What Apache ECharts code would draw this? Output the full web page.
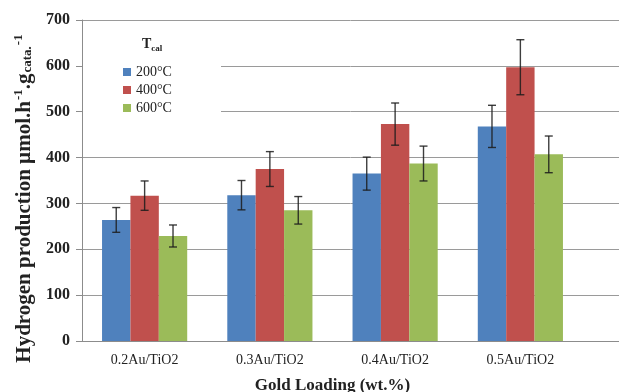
<!DOCTYPE html>
<html><head><meta charset="utf-8">
<script src="https://cdn.jsdelivr.net/npm/echarts@6/dist/echarts.min.js"></script>
<style>html,body{margin:0;padding:0;background:#fff}#c{width:619px;height:392px}</style>
</head><body><div id="c"></div>
<script>
const categories = ['0.2Au/TiO2', '0.3Au/TiO2', '0.4Au/TiO2', '0.5Au/TiO2'];
const seriesNames = ['200°C', '400°C', '600°C'];
const values200 = [264, 318, 365, 468];
const values400 = [317, 375, 473, 597];
const values600 = [229, 285, 387, 407];
const err200 = [27, 32, 36, 46];
const err400 = [32, 38, 46, 60];
const err600 = [24, 30, 38, 40];
const yTicks = [0, 100, 200, 300, 400, 500, 600, 700];

const colors = ['#4F81BD', '#C0504D', '#9BBB59'];
const valuesAll = [values200, values400, values600];
const errAll = [err200, err400, err600];
const catGap = 0.32;
const FONT = '"Liberation Serif", "Times New Roman", serif';

const chart = echarts.init(document.getElementById('c'), null, {renderer: 'canvas'});

const barSeries = seriesNames.map((n, i) => ({
  name: n, type: 'bar', xAxisIndex: 0, yAxisIndex: 0,
  data: valuesAll[i], barGap: '0%', barCategoryGap: (catGap * 100) + '%',
  itemStyle: {color: colors[i]}, z: 2
}));

const errSeries = seriesNames.map((n, i) => ({
  type: 'custom', xAxisIndex: 0, yAxisIndex: 0, z: 5, silent: true,
  data: valuesAll[i].map((v, k) => [k, v - errAll[i][k], v + errAll[i][k]]),
  renderItem: function (params, api) {
    const band = api.size([1, 0])[0];
    const bw = band * (1 - catGap) / 3;
    const lo = api.coord([api.value(0), api.value(1)]);
    const hi = api.coord([api.value(0), api.value(2)]);
    const x = lo[0] + (i - 1) * bw;
    const cap = 4;
    const style = {stroke: '#1c1c1c', lineWidth: 1.4, opacity: 0.85};
    return {type: 'group', children: [
      {type: 'line', shape: {x1: x, y1: lo[1], x2: x, y2: hi[1]}, style},
      {type: 'line', shape: {x1: x - cap, y1: lo[1], x2: x + cap, y2: lo[1]}, style},
      {type: 'line', shape: {x1: x - cap, y1: hi[1], x2: x + cap, y2: hi[1]}, style}
    ]};
  }
}));

chart.setOption({
  animation: false,
  backgroundColor: '#fff',
  textStyle: {fontFamily: FONT},
  grid: [
    {left: 82, right: 36, top: 20, bottom: 51, containLabel: false, outerBoundsMode: 'none'},
    {left: 82, right: 0, top: 20, bottom: 51, containLabel: false, outerBoundsMode: 'none'}
  ],
  title: {
    text: '{a|T}{b|cal}', left: 137, top: 31,
    textStyle: {rich: {
      a: {fontFamily: FONT, fontSize: 14, color: '#222'},
      b: {fontFamily: FONT, fontSize: 9, color: '#222', padding: [8, 0, 0, 0]}
    }}
  },
  legend: {
    data: seriesNames, orient: 'vertical', left: 118, top: 60,
    icon: 'rect', itemWidth: 8, itemHeight: 8, itemGap: 4, z: 10,
    textStyle: {fontFamily: FONT, fontSize: 14, color: '#222'}
  },
  graphic: [{
    type: 'rect', z: 3, silent: true,
    shape: {x: 83, y: 22, width: 138, height: 110},
    style: {fill: '#fff'}
  }],
  xAxis: [
    {
      type: 'category', gridIndex: 0, data: categories,
      axisLine: {show: false}, axisTick: {show: false},
      axisLabel: {fontFamily: FONT, fontSize: 14, color: '#222', margin: 12},
      name: 'Gold Loading (wt.%)', nameLocation: 'middle', nameGap: 36,
      nameTextStyle: {fontFamily: FONT, fontSize: 17, fontWeight: 'bold', color: '#222'}
    },
    {
      type: 'value', gridIndex: 1, min: 0, max: 1, show: true,
      axisLine: {show: true, lineStyle: {color: '#8c8c8c', width: 1}},
      axisTick: {show: false}, axisLabel: {show: false}, splitLine: {show: false}
    }
  ],
  yAxis: [
    {
      type: 'value', gridIndex: 0, min: 0, max: 700, interval: 100,
      axisLine: {show: true, lineStyle: {color: '#8c8c8c'}},
      axisTick: {show: true, length: 6, lineStyle: {color: '#8c8c8c'}},
      splitLine: {show: false},
      axisLabel: {fontFamily: FONT, fontSize: 16, fontWeight: 'bold', color: '#222', margin: 12,
        formatter: v => (yTicks.indexOf(v) >= 0 ? String(v) : '')},
      name: '{m|Hydrogen production µmol.h}{sup|-1}{m|.g}{sub|cata.}{sup|-1}',
      nameLocation: 'middle', nameRotate: 90, nameGap: 41,
      nameTextStyle: {padding: [0, 36, 0, 0], rich: {
        m: {fontFamily: FONT, fontSize: 21, fontWeight: 'bold', color: '#222'},
        sup: {fontFamily: FONT, fontSize: 13, fontWeight: 'bold', color: '#222', padding: [0, 0, 12, 1]},
        sub: {fontFamily: FONT, fontSize: 13, fontWeight: 'bold', color: '#222', padding: [7, 0, 0, 1]}
      }}
    },
    {
      type: 'value', gridIndex: 1, min: 0, max: 700, interval: 100,
      axisLine: {show: false}, axisTick: {show: false}, axisLabel: {show: false},
      splitLine: {show: true, lineStyle: {color: '#9a9a9a', width: 1}}
    }
  ],
  series: barSeries.concat(errSeries)
});
</script></body></html>
